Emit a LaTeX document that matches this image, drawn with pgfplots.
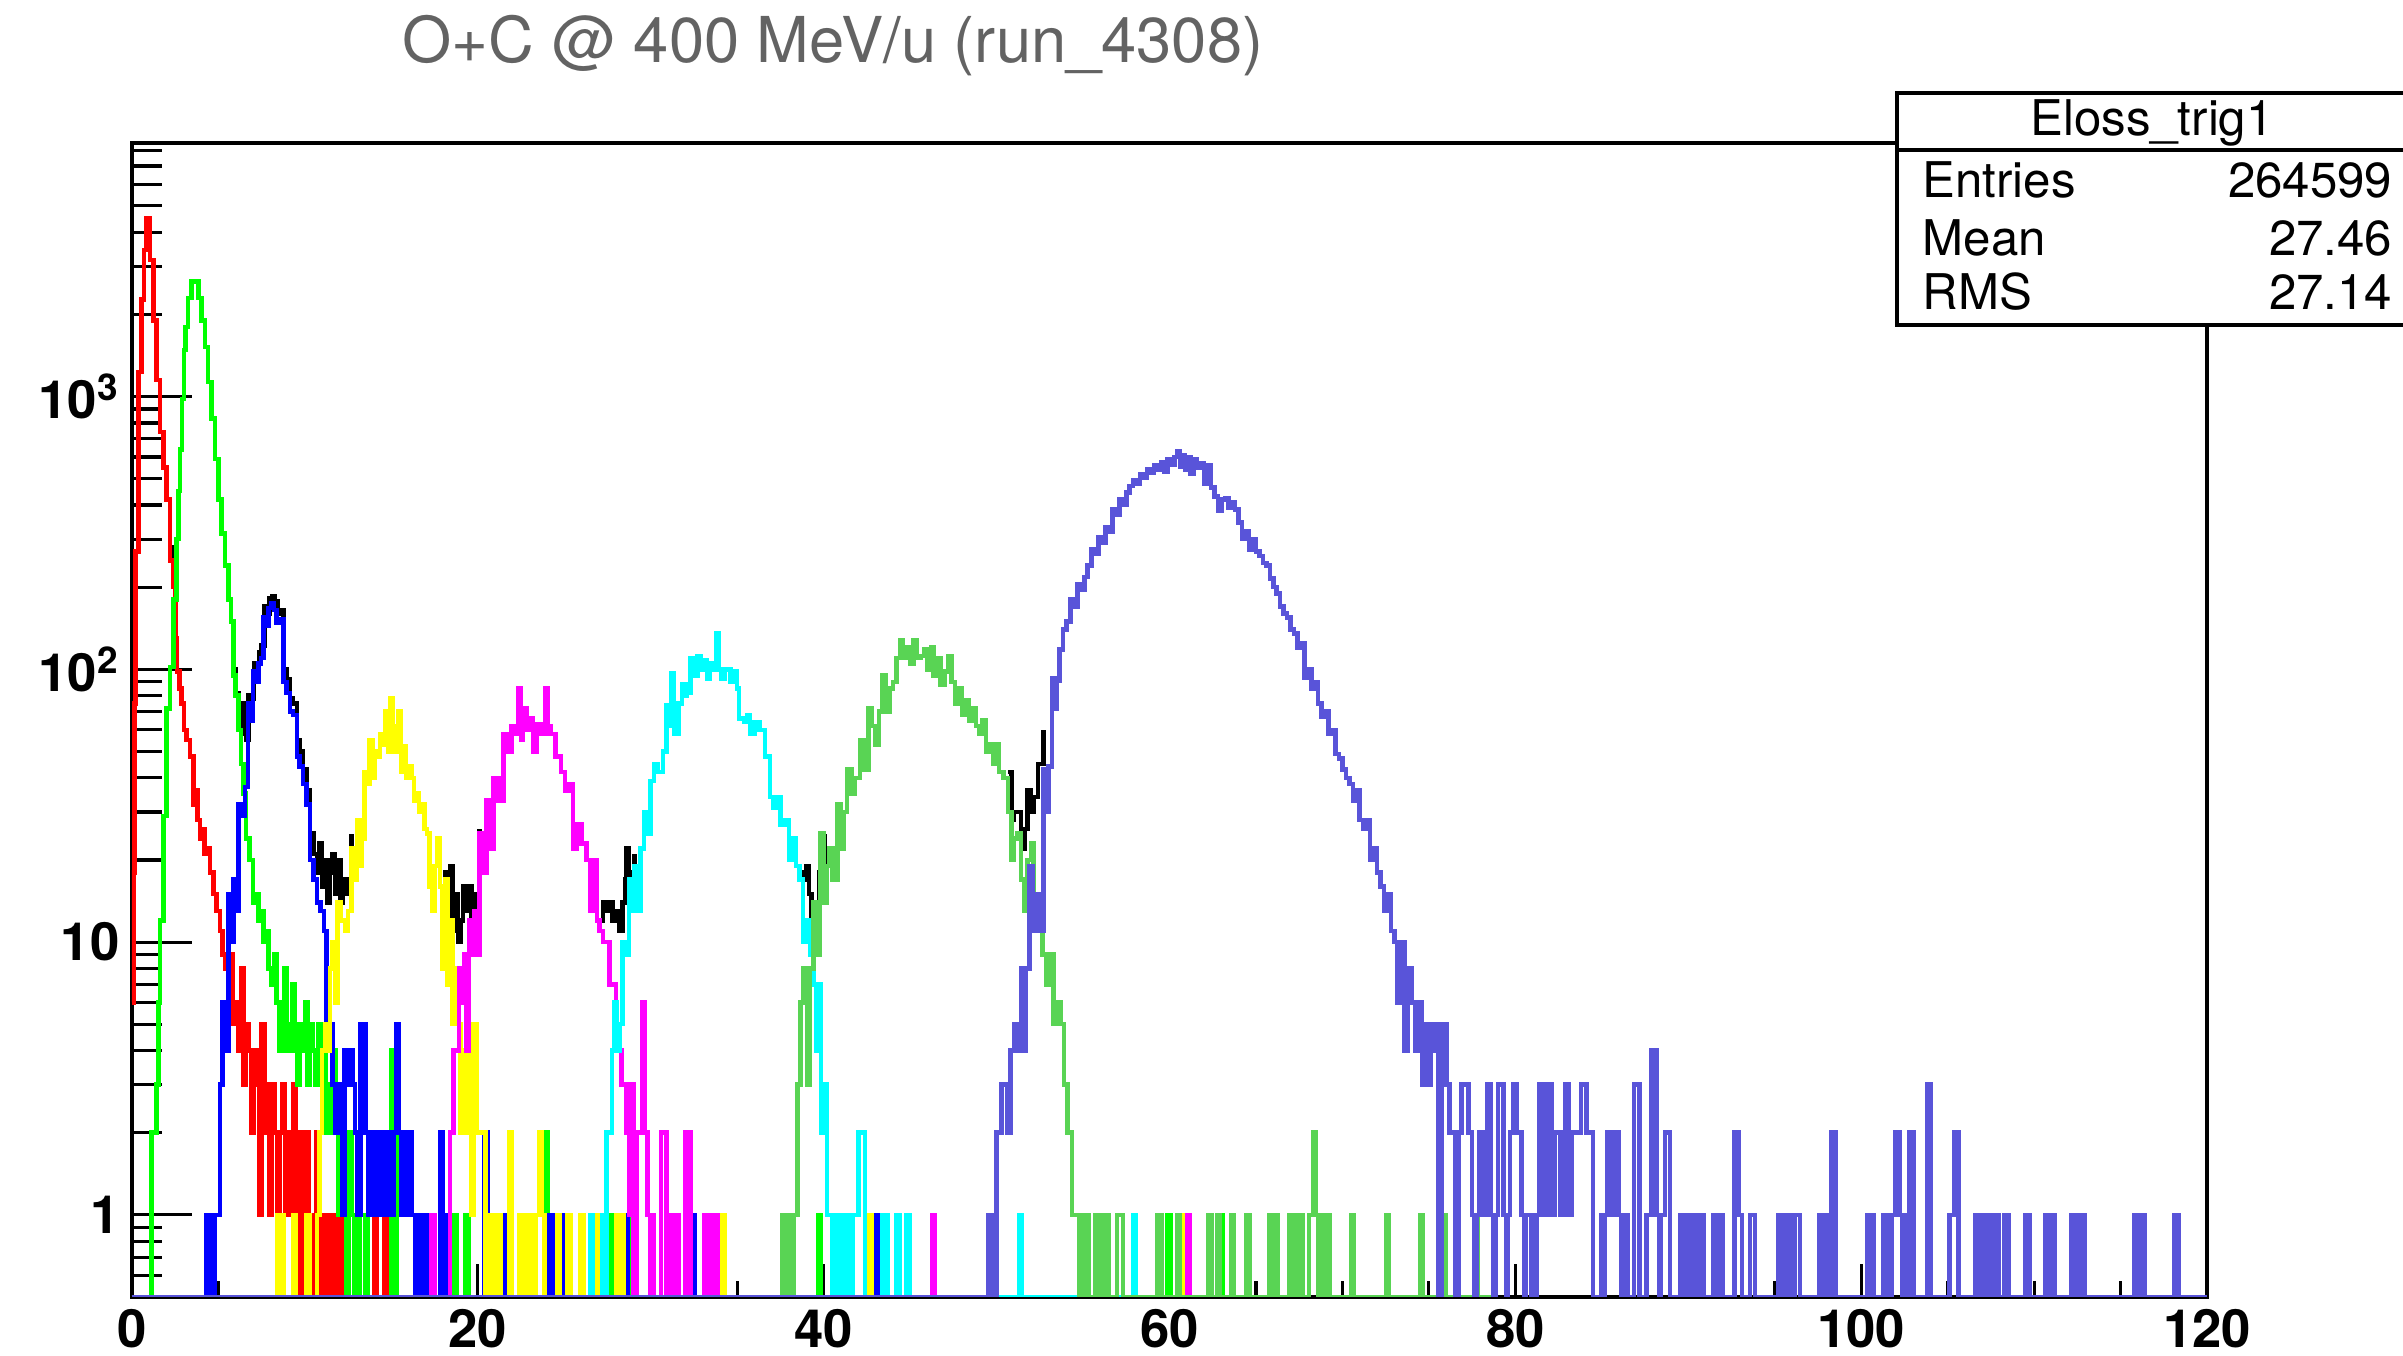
\documentclass[border=0pt]{standalone}
\usepackage{fontspec}
\setmainfont{TeX Gyre Heros}
\usepackage{pgfplots}
\pgfplotsset{compat=1.18}
\definecolor{rtred}{RGB}{255,0,0}
\definecolor{rtlime}{RGB}{0,255,0}
\definecolor{rtpure}{RGB}{0,0,255}
\definecolor{rtyellow}{RGB}{255,255,0}
\definecolor{rtmagenta}{RGB}{255,0,255}
\definecolor{rtcyan}{RGB}{0,255,255}
\definecolor{rtgreen}{RGB}{89,212,84}
\definecolor{rtblue}{RGB}{89,84,217}
\definecolor{titlegray}{RGB}{99,99,99}
\pgfplotsset{hist/.style={const plot, line width=1.3pt, mark=none}}

\begin{document}
\begin{tikzpicture}
\path[use as bounding box] (0,0) rectangle (24.03,13.56);

% x ticks and labels (shorter ticks than on y)
\begin{axis}[
  at={(1.32cm,0.59cm)}, anchor=south west,
  scale only axis, width=20.75cm, height=11.54cm,
  xmin=0, xmax=120, ymin=0, ymax=1,
  hide y axis,
  xtick={0,20,...,120}, xticklabels={0,20,40,60,80,100,120},
  minor x tick num=3,
  xtick pos=left, xtick align=inside,
  major tick length=0.33cm, minor tick length=0.16cm,
  tick style={black, line width=0.9pt},
  axis line style={line width=0.9pt},
  xticklabel style={font=\fontsize{15}{18}\selectfont\bfseries},
]
\end{axis}

\begin{axis}[
  at={(1.32cm,0.59cm)}, anchor=south west,
  scale only axis, width=20.75cm, height=11.54cm,
  xmin=0, xmax=120, ymode=log, ymin=0.5, ymax=8500,
  xtick=\empty,
  ytick={1,10,100,1000},
  yticklabels={1,10,10\textsuperscript{2},10\textsuperscript{3}},
  minor ytick={0.6,0.7,0.8,0.9,2,3,4,5,6,7,8,9,20,30,40,50,60,70,80,90,200,300,400,500,600,700,800,900,2000,3000,4000,5000,6000,7000,8000},
  ytick pos=left, ytick align=inside,
  major tick length=0.6cm, minor tick length=0.3cm,
  tick style={black, line width=0.9pt},
  axis line style={line width=0.9pt},
  yticklabel style={font=\fontsize{15}{18}\selectfont\bfseries},
]
% total (visible in the valleys)
\addplot[hist, black] coordinates {(2.2,280) (2.4,240) (2.58,300)};
\addplot[hist, black] coordinates {(5.72,150) (5.86,100) (6.0,82) (6.15,70) (6.3,58) (6.45,75) (6.6,55) (6.75,80) (6.9,78) (7.05,105) (7.2,100) (7.35,115) (7.5,122) (7.65,170) (7.8,160) (7.95,182) (8.1,186) (8.25,178) (8.4,160) (8.55,165) (8.76,100) (8.95,92) (9.14,78) (9.3,75) (9.53,55) (9.7,50) (9.9,43) (10.1,36) (10.3,25) (10.5,21) (10.7,18) (10.85,23) (11.0,16) (11.15,20) (11.3,14) (11.45,18) (11.6,21) (11.75,15) (11.9,20) (12.05,14) (12.2,17) (12.35,15) (12.5,17) (12.7,25)};
\addplot[hist, black] coordinates {(17.95,10) (18.1,18) (18.25,13) (18.4,19) (18.55,11) (18.7,15) (18.85,10) (19.0,12) (19.15,16) (19.3,13) (19.5,16) (19.65,12) (19.8,15) (19.95,13) (20.1,26)};
\addplot[hist, black] coordinates {(27.05,12) (27.25,14) (27.45,13) (27.6,14) (27.8,12) (28.0,13) (28.2,11) (28.35,14) (28.5,17) (28.6,22) (28.75,18) (28.9,15) (29.05,21)};
\addplot[hist, black] coordinates {(38.6,18) (38.8,17) (39.0,19) (39.15,15) (39.3,11) (39.45,9) (39.6,14) (39.75,18) (39.9,16) (40.05,25)};
\addplot[hist, black] coordinates {(50.65,42) (50.85,28) (51.0,30) (51.2,30) (51.4,22) (51.6,26) (51.8,36) (52.0,30) (52.15,34) (52.4,45) (52.7,60)};

% red
\addplot[hist, rtred] coordinates {(0,6) (0.08,18) (0.14,75) (0.2,270) (0.36,1230) (0.56,2270) (0.69,3450) (0.85,4500) (1.04,3170) (1.23,1900) (1.43,1150) (1.62,740) (1.81,550) (2.0,420) (2.2,250) (2.39,200) (2.5,130) (2.6,98) (2.75,85) (2.87,75) (3.0,60) (3.16,55) (3.35,48) (3.55,32) (3.7,36) (3.8,28) (3.93,24) (4.1,26) (4.2,21) (4.32,22) (4.5,18) (4.7,15) (4.9,13) (5.09,11) (5.25,9) (5.4,8) (5.55,6) (5.7,9) (5.85,5) (6.0,6) (6.15,4) (6.3,8) (6.45,3) (6.6,5) (6.75,4) (6.9,2) (7.05,4) (7.2,3) (7.35,1) (7.5,5) (7.65,2) (7.8,3) (7.95,1) (8.1,3) (8.25,2) (8.4,1) (8.55,2) (8.7,3) (8.85,1) (9.0,2) (9.15,1) (9.3,3) (9.45,1) (9.6,2) (9.75,0.5) (9.9,1) (10.05,2) (10.2,1) (10.35,0.5) (10.5,1) (10.65,2) (10.8,1) (10.95,0.5) (11.1,1) (11.25,0.5) (11.55,1) (11.7,0.5) (12.0,1) (12.15,0.5) (12.9,1) (13.05,0.5) (14.0,1) (14.15,0.5) (14.6,1) (14.75,0.5) (14.9,0.5)};

% green
\addplot[hist, rtlime] coordinates {(0,0.5) (1.14,2) (1.43,3) (1.52,6) (1.62,12) (1.81,29) (2.0,72) (2.2,102) (2.39,180) (2.58,300) (2.68,450) (2.78,640) (2.9,980) (3.0,1480) (3.1,1800) (3.25,2300) (3.45,2640) (3.83,2300) (4.02,1900) (4.22,1520) (4.4,1130) (4.6,830) (4.8,590) (4.99,420) (5.18,315) (5.37,240) (5.57,180) (5.72,150) (5.86,95) (6.0,80) (6.15,60) (6.3,45) (6.45,35) (6.6,24) (6.8,20) (7.0,14) (7.15,15) (7.3,12) (7.45,13) (7.6,10) (7.75,11) (7.9,8) (8.05,7) (8.2,9) (8.37,6) (8.5,4) (8.65,6) (8.8,8) (8.95,4) (9.1,5) (9.25,7) (9.4,4) (9.55,3) (9.7,5) (9.85,4) (10.0,6) (10.15,3) (10.3,5) (10.45,4) (10.6,3) (10.75,5) (10.9,3) (11.05,4) (11.2,2) (11.35,3) (11.5,2) (11.65,4) (11.8,2) (11.95,1) (12.1,2) (12.25,1) (12.4,0.5) (12.55,2) (12.7,1) (12.85,0.5) (13.0,1) (13.15,0.5) (13.5,1) (13.65,0.5) (15.0,4) (15.3,0.5) (18.6,1) (18.75,0.5) (19.3,1) (19.45,0.5) (23.9,2) (24.05,0.5) (27.6,1) (27.75,0.5) (28.7,1) (28.85,0.5) (39.7,1) (39.85,0.5) (59.9,1) (60.05,0.5) (62.9,1) (63.05,0.5)};

% blue
\addplot[hist, rtpure] coordinates {(0,0.5) (4.32,1) (4.47,0.5) (4.55,1) (4.7,0.5) (4.78,1) (4.93,1) (5.09,3) (5.25,6) (5.4,4) (5.57,15) (5.72,10) (5.86,17) (6.0,13) (6.15,32) (6.35,29) (6.53,37) (6.7,75) (6.85,65) (7.0,98) (7.15,90) (7.3,105) (7.45,110) (7.6,155) (7.75,145) (7.9,168) (8.05,175) (8.2,165) (8.37,148) (8.55,152) (8.76,90) (8.95,82) (9.14,70) (9.3,68) (9.53,48) (9.7,44) (9.9,38) (10.1,32) (10.3,20) (10.5,17) (10.7,14) (10.9,13) (11.1,11) (11.25,5) (11.45,5) (11.6,3) (11.75,2) (11.9,3) (12.05,2) (12.15,1) (12.3,4) (12.45,3) (12.6,4) (12.75,3) (12.9,2) (13.05,1) (13.2,5) (13.35,5) (13.5,2) (13.65,1) (13.8,2) (13.95,1) (14.1,2) (14.25,1) (14.4,2) (14.55,1) (14.7,1) (14.85,2) (15.0,1) (15.15,2) (15.3,5) (15.45,2) (15.6,1) (15.75,2) (15.9,1) (16.05,2) (16.2,1) (16.4,0.5) (16.55,1) (16.7,0.5) (16.8,1) (16.95,0.5) (17.05,1) (17.2,0.5) (17.8,2) (17.95,0.5) (18.1,1) (18.25,0.5) (20.4,2) (20.55,0.5) (20.8,1) (20.95,0.5) (21.5,1) (21.65,0.5) (24.0,1) (24.15,0.5) (24.25,1) (24.4,0.5) (24.95,1) (25.1,0.5) (28.5,1) (28.65,0.5) (32.4,1) (32.55,0.5) (43.0,1) (43.15,0.5)};

% yellow
\addplot[hist, rtyellow] coordinates {(0,0.5) (8.4,1) (8.55,0.5) (8.65,1) (8.8,0.5) (9.3,1) (9.45,0.5) (10.1,1) (10.25,0.5) (10.7,1) (10.85,2) (11.0,4) (11.15,5) (11.3,4) (11.45,8) (11.6,10) (11.75,6) (11.9,14) (12.05,12) (12.2,12) (12.35,11) (12.5,13) (12.7,22) (12.85,17) (13.0,28) (13.15,19) (13.3,24) (13.45,42) (13.6,38) (13.75,55) (13.9,40) (14.05,50) (14.2,48) (14.35,58) (14.5,53) (14.65,70) (14.8,50) (14.95,78) (15.1,62) (15.25,50) (15.4,70) (15.55,42) (15.7,52) (15.85,40) (16.0,44) (16.15,40) (16.3,33) (16.45,35) (16.6,30) (16.75,32) (16.9,26) (17.05,25) (17.2,16) (17.35,13) (17.5,19) (17.65,24) (17.8,16) (17.95,8) (18.1,17) (18.25,7) (18.4,12) (18.55,5) (18.7,8) (18.85,5) (19.0,2) (19.15,4) (19.3,2) (19.45,4) (19.6,1) (19.75,5) (19.95,2) (20.2,2) (20.45,0.5) (20.7,1) (20.85,0.5) (20.95,1) (21.1,0.5) (21.2,1) (21.35,0.5) (21.8,2) (21.95,0.5) (22.4,1) (22.55,0.5) (22.65,1) (22.8,0.5) (22.85,1) (23.0,0.5) (23.1,1) (23.25,0.5) (23.35,1) (23.55,2) (23.7,1) (23.85,0.5) (24.6,1) (24.75,0.5) (25.2,1) (25.35,0.5) (25.95,1) (26.1,0.5) (26.8,1) (26.95,0.5) (28.0,1) (28.15,0.5) (28.25,1) (28.45,0.5) (34.1,1) (34.25,0.5) (42.6,1) (42.75,0.5) (60.7,1) (60.85,0.5)};

% magenta
\addplot[hist, rtmagenta] coordinates {(0,0.5) (17.3,1) (17.5,0.5) (18.4,2) (18.6,4) (18.9,8) (19.05,6) (19.2,9) (19.35,4) (19.5,12) (19.65,9) (19.8,13) (19.95,9) (20.1,25) (20.3,18) (20.5,33) (20.7,22) (20.9,40) (21.2,33) (21.5,58) (21.7,50) (21.95,62) (22.2,58) (22.35,85) (22.5,55) (22.6,72) (22.8,60) (23.0,66) (23.2,50) (23.4,63) (23.65,58) (23.9,85) (24.05,62) (24.2,58) (24.5,48) (24.8,42) (25.05,36) (25.3,38) (25.5,22) (25.7,27) (26.0,23) (26.3,20) (26.5,13) (26.7,20) (26.9,12) (27.05,11) (27.25,10) (27.45,10) (27.6,7) (27.8,7) (28.0,4) (28.2,4) (28.3,3) (28.4,3) (28.6,2) (28.75,1) (28.85,3) (29.0,0.5) (29.2,2) (29.5,6) (29.65,2) (29.8,1) (29.95,0.5) (30.0,1) (30.15,0.5) (30.6,2) (30.9,0.5) (31.0,1) (31.15,0.5) (31.25,1) (31.4,0.5) (31.45,1) (31.6,0.5) (32.0,2) (32.3,0.5) (33.1,1) (33.25,0.5) (33.3,1) (33.45,0.5) (33.55,1) (33.7,0.5) (33.75,1) (33.9,0.5) (46.3,1) (46.45,0.5) (61.0,1) (61.15,0.5)};

% cyan
\addplot[hist, rtcyan] coordinates {(0,0.5) (26.5,1) (26.65,0.5) (27.2,1) (27.35,0.5) (27.45,2) (27.75,4) (27.9,6) (28.05,4) (28.2,5) (28.35,10) (28.6,9) (28.75,17) (28.9,13) (29.05,19) (29.2,13) (29.4,22) (29.6,30) (29.8,25) (30.0,39) (30.2,45) (30.4,42) (30.7,50) (30.9,74) (31.05,62) (31.2,97) (31.35,58) (31.6,75) (31.8,88) (32.0,80) (32.1,82) (32.3,110) (32.5,95) (32.7,112) (32.9,100) (33.1,108) (33.25,92) (33.4,105) (33.6,100) (33.8,135) (33.95,100) (34.1,92) (34.3,100) (34.6,90) (34.8,98) (35.0,85) (35.1,66) (35.4,64) (35.6,68) (35.75,58) (36.0,64) (36.3,60) (36.6,48) (36.9,34) (37.1,31) (37.3,34) (37.5,27) (37.75,28) (38.0,20) (38.25,24) (38.4,19) (38.6,17) (38.8,10) (39.0,12) (39.2,9) (39.4,7) (39.55,4) (39.7,7) (39.85,2) (40.0,3) (40.2,1) (40.5,0.5) (40.6,1) (40.75,0.5) (40.85,1) (41.0,0.5) (41.05,1) (41.2,0.5) (41.35,1) (41.6,0.5) (41.7,1) (42.0,2) (42.4,0.5) (43.4,1) (43.7,0.5) (44.2,1) (44.4,0.5) (44.8,1) (45.0,0.5) (51.3,1) (51.45,0.5) (57.9,1) (58.05,0.5)};

% second green
\addplot[hist, rtgreen] coordinates {(0,0.5) (37.6,1) (37.75,0.5) (37.8,1) (37.95,0.5) (38.0,1) (38.15,0.5) (38.25,1) (38.5,3) (38.65,6) (38.85,8) (39.05,3) (39.2,8) (39.4,14) (39.6,9) (39.8,25) (40.0,14) (40.15,19) (40.3,22) (40.5,17) (40.8,32) (41.0,22) (41.15,30) (41.35,43) (41.6,35) (41.8,40) (42.1,55) (42.35,43) (42.6,72) (42.8,62) (43.0,53) (43.2,70) (43.4,95) (43.6,70) (43.8,85) (44.0,90) (44.2,110) (44.45,128) (44.6,110) (44.8,120) (45.0,105) (45.2,128) (45.4,110) (45.6,112) (45.8,118) (46.0,100) (46.2,120) (46.35,95) (46.55,110) (46.75,88) (47.0,98) (47.2,112) (47.4,90) (47.6,75) (47.8,85) (48.0,68) (48.2,77) (48.4,65) (48.6,72) (48.8,62) (49.0,58) (49.2,65) (49.4,50) (49.6,53) (49.8,45) (50.0,53) (50.15,42) (50.4,40) (50.65,30) (50.85,20) (51.0,24) (51.2,25) (51.4,17) (51.6,13) (51.8,20) (52.0,23) (52.15,13) (52.45,11) (52.65,9) (52.9,7) (53.1,9) (53.3,5) (53.5,6) (53.7,5) (53.9,3) (54.1,2) (54.35,1) (54.8,0.5) (54.95,1) (55.1,0.5) (55.15,1) (55.3,0.5) (55.68,1) (55.83,0.5) (55.93,1) (56.08,0.5) (56.18,1) (56.33,1) (56.46,0.5) (56.97,1) (57.31,0.5) (59.3,1) (59.56,0.5) (60.46,1) (60.6,0.5) (62.27,1) (62.42,0.5) (62.78,1) (62.93,0.5) (63.56,1) (63.71,0.5) (64.46,1) (64.61,0.5) (65.75,1) (65.9,0.5) (66.0,1) (66.15,1) (66.27,0.5) (66.91,1) (67.06,0.5) (67.16,1) (67.3,1) (67.43,0.5) (67.56,1) (67.71,0.5) (68.07,1) (68.33,2) (68.48,1) (68.63,0.5) (68.73,1) (68.88,0.5) (68.98,1) (69.1,1) (69.24,0.5) (70.53,1) (70.68,0.5) (72.54,1) (72.69,0.5) (74.5,1) (74.65,0.5) (75.8,1) (75.95,0.5) (77.7,1) (77.85,0.5) (78.7,1) (78.85,0.5)};

% slate blue
\addplot[hist, rtblue] coordinates {(0,0.5) (49.5,1) (49.65,0.5) (49.75,1) (49.9,0.5) (50.0,2) (50.3,3) (50.6,2) (50.8,4) (51.0,5) (51.25,4) (51.4,8) (51.55,4) (51.7,8) (51.9,19) (52.1,11) (52.3,15) (52.5,11) (52.7,43) (52.85,30) (53.0,44) (53.2,93) (53.35,72) (53.5,91) (53.65,118) (53.85,140) (54.05,150) (54.26,180) (54.45,170) (54.67,205) (54.85,195) (55.07,218) (55.25,240) (55.48,275) (55.65,265) (55.88,306) (56.05,290) (56.29,333) (56.5,320) (56.69,385) (56.9,370) (57.1,420) (57.3,400) (57.5,445) (57.7,470) (57.9,495) (58.1,480) (58.3,520) (58.5,505) (58.7,540) (58.9,525) (59.1,560) (59.3,540) (59.5,575) (59.7,530) (59.9,590) (60.1,560) (60.3,600) (60.45,630) (60.6,555) (60.75,610) (60.9,540) (61.05,600) (61.2,520) (61.4,590) (61.6,550) (61.8,570) (62.0,480) (62.2,560) (62.4,465) (62.6,430) (62.8,380) (63.0,420) (63.2,425) (63.4,390) (63.6,410) (63.8,385) (64.0,345) (64.2,300) (64.4,320) (64.6,275) (64.8,300) (65.0,270) (65.2,260) (65.4,245) (65.6,240) (65.8,215) (66.0,200) (66.2,190) (66.4,170) (66.6,160) (66.8,155) (67.0,140) (67.2,135) (67.4,120) (67.6,125) (67.8,93) (68.0,100) (68.2,85) (68.4,90) (68.6,75) (68.8,67) (69.0,70) (69.2,58) (69.4,60) (69.6,49) (69.8,47) (70.0,43) (70.2,40) (70.4,38) (70.6,33) (70.8,36) (71.0,28) (71.2,26) (71.4,28) (71.6,20) (71.8,22) (72.0,18) (72.2,16) (72.4,13) (72.6,15) (72.8,11) (73.0,10) (73.2,6) (73.4,10) (73.6,4) (73.8,8) (74.0,6) (74.2,4) (74.4,6) (74.6,3) (74.8,5) (75.0,3) (75.1,4) (75.26,5) (75.55,0.5) (75.74,5) (76.03,3) (76.2,2) (76.5,0.5) (76.7,2) (76.9,3) (77.3,2) (77.5,1) (77.65,0.5) (77.75,1) (77.9,2) (78.15,1) (78.35,3) (78.6,1) (78.75,0.5) (78.85,1) (79.0,3) (79.3,1) (79.45,0.5) (79.55,1) (79.7,2) (79.9,3) (80.1,2) (80.35,1) (80.5,0.5) (80.6,1) (80.75,1) (80.9,0.5) (81.0,1) (81.15,0.5) (81.25,1) (81.4,3) (81.7,1) (81.9,3) (82.1,1) (82.3,2) (82.6,1) (82.87,3) (83.1,1) (83.26,2) (83.8,3) (84.1,2) (84.5,0.5) (84.95,1) (85.1,0.5) (85.15,1) (85.3,2) (85.57,1) (85.67,2) (85.96,1) (86.1,0.5) (86.2,1) (86.35,1) (86.5,0.5) (86.86,3) (87.17,0.5) (87.6,1) (87.88,4) (88.17,1) (88.3,0.5) (88.4,1) (88.65,2) (88.94,0.5) (89.56,1) (89.7,0.5) (89.8,1) (90.0,0.5) (90.2,1) (90.35,0.5) (90.45,1) (90.6,0.5) (90.7,1) (90.87,0.5) (91.45,1) (91.6,0.5) (91.75,1) (92.0,0.5) (92.66,2) (92.9,1) (93.1,0.5) (93.57,1) (93.86,0.5) (95.2,1) (95.35,0.5) (95.45,1) (95.6,0.5) (95.7,1) (95.85,0.5) (95.9,1) (96.07,0.5) (96.17,1) (96.46,0.5) (97.6,1) (97.75,0.5) (97.85,1) (98.0,0.5) (98.3,2) (98.55,0.5) (100.33,1) (100.48,0.5) (100.55,1) (100.7,0.5) (101.3,1) (101.45,0.5) (101.55,1) (101.7,0.5) (101.77,1) (102.0,2) (102.25,1) (102.4,0.5) (102.45,1) (102.6,0.5) (102.8,2) (103.06,0.5) (103.8,3) (104.05,0.5) (105.1,1) (105.38,2) (105.63,0.5) (106.6,1) (106.85,0.5) (107.07,1) (107.22,0.5) (107.3,1) (107.4,1) (107.55,0.5) (107.65,1) (107.94,0.5) (108.3,1) (108.55,0.5) (109.5,1) (109.73,0.5) (110.64,1) (110.87,0.5) (110.96,1) (111.2,0.5) (112.17,1) (112.43,0.5) (112.7,1) (112.95,0.5) (115.8,1) (116.03,0.5) (116.2,1) (116.4,0.5) (118.1,1) (118.35,0.5) (120,0.5)};
\end{axis}

% title
\node[anchor=base, text=titlegray, font=\fontsize{18}{21}\selectfont] at (8.33,12.93) {O+C @ 400 MeV/u (run\_4308)};

% statistics box
\draw[line width=0.9pt, fill=white] (18.97,12.63) rectangle (24.2,10.31);
\draw[line width=0.9pt] (18.97,12.06) -- (24.2,12.06);
\begin{scope}[every node/.style={font=\fontsize{14}{17}\selectfont, inner sep=0pt}]
\node[anchor=base] at (21.52,12.2) {Eloss\_trig1};
\node[anchor=base west] at (19.22,11.58) {Entries};
\node[anchor=base east] at (23.93,11.58) {264599};
\node[anchor=base west] at (19.22,11.0) {Mean};
\node[anchor=base east] at (23.93,11.0) {27.46};
\node[anchor=base west] at (19.22,10.46) {RMS};
\node[anchor=base east] at (23.93,10.46) {27.14};
\end{scope}
\end{tikzpicture}
\end{document}
